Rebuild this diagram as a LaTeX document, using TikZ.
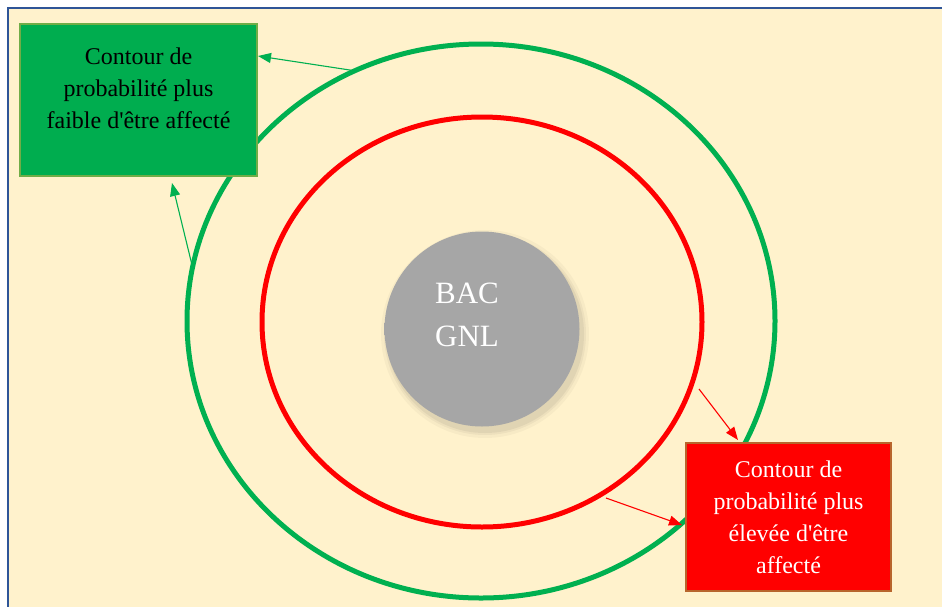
\documentclass[tikz,border=0pt]{standalone}
\usepackage{fontspec}
\setmainfont{Liberation Serif}[Ligatures=TeXOff]
\usetikzlibrary{arrows.meta}

\definecolor{cream}{HTML}{FFF2CC}
\definecolor{frameblue}{HTML}{2F5597}
\definecolor{zonegreen}{HTML}{00B050}
\definecolor{boxgreen}{HTML}{00AD4F}
\definecolor{boxgreenedge}{HTML}{70AD47}
\definecolor{zonered}{HTML}{FF0000}
\definecolor{boxrededge}{HTML}{B8652C}
\definecolor{discgray}{HTML}{A6A6A6}
\definecolor{discrim}{HTML}{C8C8C8}
\definecolor{discedge}{HTML}{9A9A9A}

% flat grey disc with a lighter bevelled rim
\pgfdeclareradialshading{bevelgray}{\pgfpoint{0bp}{0bp}}{%
  color(0bp)=(discgray); color(42bp)=(discgray);
  color(47.5bp)=(discrim); color(50bp)=(discedge)}

\tikzset{
  zone/.style={line width=5pt},
  infobox/.style={rectangle, line width=2pt, inner sep=0pt},
  boxtext/.style={inner sep=0pt, align=center, anchor=north,
    font=\fontsize{24}{32}\selectfont},
  link/.style={line width=1.1pt, -{Triangle[length=13pt,width=10pt]}},
}

\begin{document}
\begin{tikzpicture}[x=1pt,y=-1pt]
  \useasboundingbox (0,0) rectangle (942,606);
  \fill[white] (0,0) rectangle (942,606);

  % page frame running off the right and bottom edges
  \begin{scope}
    \clip (0,0) rectangle (942,606);
    \fill[cream] (8,8) rectangle (960,630);
    \draw[frameblue, line width=2pt] (8,630) -- (8,8) -- (960,8);
  \end{scope}

  % risk contours
  \draw[zone, zonegreen] (481,321) ellipse [x radius=294, y radius=277];
  \draw[zone, zonered]   (482,322) ellipse [x radius=220, y radius=205];

  % soft shadow under the tank
  \foreach \r/\o in {104/0.03, 101/0.04, 99/0.05}
    \fill[black, opacity=\o] (485,334) circle [radius=\r];

  % LNG tank
  \node[circle, minimum size=195pt, inner sep=0pt, shading=bevelgray]
    (tank) at (482,329) {};
  \node[inner sep=0pt, align=center, anchor=north, text=white,
        font=\fontsize{31}{43}\selectfont] (tanklabel) at (467,283) {BAC\\GNL};

  % anchor points on the contours
  \coordinate (gtop)  at (353,70.5);
  \coordinate (gleft) at (192,265);
  \coordinate (rr1)   at (699,389);
  \coordinate (rr2)   at (606,498);

  % annotation boxes
  \node[infobox, draw=boxgreenedge, fill=boxgreen,
        minimum width=237pt, minimum height=152pt] (gbox) at (138.5,100) {};
  \node[boxtext, text=black] (gtext) at (138.5,47.6)
    {Contour de\\probabilité plus\\faible d'être affecté};

  \node[infobox, draw=boxrededge, fill=zonered,
        minimum width=205pt, minimum height=148pt] (rbox) at (788.5,517) {};
  \node[boxtext, text=white] (rtext) at (788.5,461)
    {Contour de\\probabilité plus\\élevée d'être\\affecté};

  % arrows from the contours to their labels
  \draw[link, zonegreen] (gtop)  -- ([yshift=-33pt]gbox.north east);
  \draw[link, zonegreen] (gleft) -- ([xshift=33.5pt,yshift=-6pt]gbox.south);
  \draw[link, zonered]   (rr1)   -- ([xshift=-50.5pt,yshift=2pt]rbox.north);
  \draw[link, zonered]   (rr2)   -- ([xshift=-3pt,yshift=-8pt]rbox.west);
\end{tikzpicture}
\end{document}
